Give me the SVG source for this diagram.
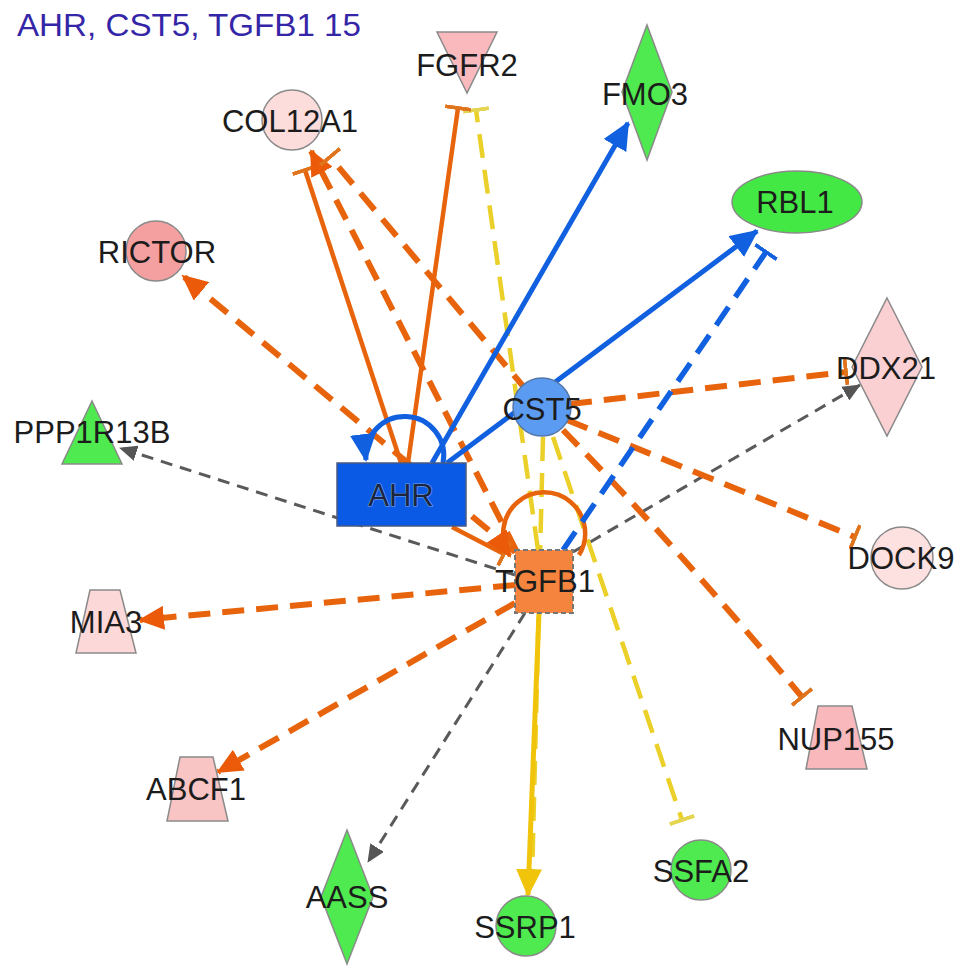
<svg xmlns="http://www.w3.org/2000/svg" width="969" height="979" viewBox="0 0 969 979">
<style>
.lbl{font-family:"Liberation Sans",Arial,sans-serif;font-size:31px;text-anchor:middle;fill:#1c1c1c}
.ttl{font-family:"Liberation Sans",Arial,sans-serif;font-size:31px;fill:#3526a8}
.nd{stroke:#8a8a8a;stroke-width:1.5}
.e{fill:none}
.eo{stroke:#e8640c;stroke-width:4.5}
.eod{stroke:#e8640c;stroke-width:6;stroke-dasharray:22 12}
.eb{stroke:#1060e0;stroke-width:5}
.ebd{stroke:#1060e0;stroke-width:5.5;stroke-dasharray:22 12}
.ey{stroke:#f0c40a;stroke-width:5}
.eyd{stroke:#ecd02a;stroke-width:4.5;stroke-dasharray:24 12}
.eg{stroke:#5a5a5a;stroke-width:3;stroke-dasharray:12 8}
</style>
<defs>
<marker id="ao" viewBox="0 0 26 24" refX="24" refY="12" markerWidth="26" markerHeight="24" markerUnits="userSpaceOnUse" orient="auto"><path d="M0,0 L26,12 L0,24 z" fill="#ea5a08"/></marker>
<marker id="ab" viewBox="0 0 28 26" refX="26" refY="13" markerWidth="28" markerHeight="26" markerUnits="userSpaceOnUse" orient="auto"><path d="M0,0 L28,13 L0,26 z" fill="#1060e0"/></marker>
<marker id="ay" viewBox="0 0 28 26" refX="26" refY="13" markerWidth="28" markerHeight="26" markerUnits="userSpaceOnUse" orient="auto"><path d="M0,0 L28,13 L0,26 z" fill="#f0c40a"/></marker>
<marker id="ag" viewBox="0 0 18 16" refX="17" refY="8" markerWidth="18" markerHeight="16" markerUnits="userSpaceOnUse" orient="auto"><path d="M0,0 L18,8 L0,16 z" fill="#555555"/></marker>
<marker id="to" viewBox="0 0 4 26" refX="2" refY="13" markerWidth="4" markerHeight="26" markerUnits="userSpaceOnUse" orient="auto"><rect width="4" height="26" fill="#e0741c"/></marker>
<marker id="ty" viewBox="0 0 4 26" refX="2" refY="13" markerWidth="4" markerHeight="26" markerUnits="userSpaceOnUse" orient="auto"><rect width="4" height="26" fill="#e4d450"/></marker>
<marker id="tb" viewBox="0 0 4 26" refX="2" refY="13" markerWidth="4" markerHeight="26" markerUnits="userSpaceOnUse" orient="auto"><rect width="4" height="26" fill="#1060e0"/></marker>
</defs>
<rect width="969" height="979" fill="#ffffff"/>
<text class="ttl" x="17" y="36" textLength="344" lengthAdjust="spacingAndGlyphs">AHR, CST5, TGFB1 15</text>
<g id="edges">
<path class="e eg" d="M515,575 L120,448" marker-end="url(#ag)"/>
<path class="e eg" d="M573,552 L860,385" marker-end="url(#ag)"/>
<path class="e eg" d="M525,613 L368,862" marker-end="url(#ag)"/>
<path class="e eyd" d="M538,550 L476,110" marker-end="url(#ty)"/>
<path class="e eyd" d="M553,437 L682,820" marker-end="url(#ty)"/>
<path class="e eyd" d="M543,437 L532,880"/>
<path class="e ey" d="M539,613 L528,895" marker-end="url(#ay)"/>
<path class="e eo" d="M408,463 L458,108" marker-end="url(#to)"/>
<path class="e eo" d="M401,463 L305,170" marker-end="url(#to)"/>
<path class="e eod" d="M517,552 L311,151" marker-end="url(#ao)"/>
<path class="e eod" d="M528,392 L330,157" marker-end="url(#to)"/>
<path class="e eod" d="M515,552 L183,276" marker-end="url(#ao)"/>
<path class="e eod" d="M570,404 L846,372" marker-end="url(#to)"/>
<path class="e eod" d="M567,420 L855,537" marker-end="url(#to)"/>
<path class="e eod" d="M563,430 Q680,550 802,697" marker-end="url(#to)"/>
<path class="e eod" d="M515,585 L140,620" marker-end="url(#ao)"/>
<path class="e eod" d="M515,603 L218,772" marker-end="url(#ao)"/>
<path class="e eo" d="M452,527 L504,554" marker-end="url(#to)"/>
<path class="e eo" d="M579,555 A41,41 0 1 0 510,556" marker-end="url(#ao)"/>
<path class="e eb" d="M432,463 L628,123" marker-end="url(#ab)"/>
<path class="e eb" d="M447,463 L757,231" marker-end="url(#ab)"/>
<path class="e ebd" d="M563,550 L766,252" marker-end="url(#tb)"/>
<path class="e eb" d="M443,463 A39,39 0 1 0 366,460" marker-end="url(#ab)"/>
</g>
<g id="node-FGFR2"><polygon class="nd" points="437,32 497,32 467,93" fill="#f9b9bd"/><text class="lbl" x="467" y="76">FGFR2</text></g>
<g id="node-FMO3"><polygon class="nd" points="647,25 672,92 647,160 622,92" fill="#4fea4f"/><text class="lbl" x="645" y="105">FMO3</text></g>
<g id="node-COL12A1"><circle class="nd" cx="292" cy="120" r="30" fill="#fddcdc"/><text class="lbl" x="290" y="132">COL12A1</text></g>
<g id="node-RICTOR"><circle class="nd" cx="156" cy="251" r="30" fill="#f5a0a0"/><text class="lbl" x="157" y="263">RICTOR</text></g>
<g id="node-RBL1"><ellipse class="nd" cx="797" cy="202" rx="65" ry="31" fill="#44e844"/><text class="lbl" x="795" y="213">RBL1</text></g>
<g id="node-DDX21"><polygon class="nd" points="887,298 922,367 887,436 852,367" fill="#fbd0d2"/><text class="lbl" x="886" y="379">DDX21</text></g>
<g id="node-CST5"><circle cx="542" cy="407" r="29" fill="#5b9cf2" stroke="#5577aa" stroke-width="1.5"/><text class="lbl" x="542" y="420">CST5</text></g>
<g id="node-PPP1R13B"><polygon class="nd" points="92,401 122,464 62,464" fill="#4fea4f"/><text class="lbl" x="92" y="443">PPP1R13B</text></g>
<g id="node-AHR"><rect x="337" y="463" width="129" height="63" fill="#0a5ae6" stroke="#4a5a80" stroke-width="1.5"/><text class="lbl" x="401" y="506" style="fill:#1a2540;stroke:#7aa4f0;stroke-width:1.2;paint-order:stroke">AHR</text></g>
<g id="node-TGFB1"><rect x="515" y="550" width="58" height="63" fill="#f5843e" stroke="#777777" stroke-width="2" stroke-dasharray="5 3"/><text class="lbl" x="545" y="592">TGFB1</text></g>
<g id="node-DOCK9"><circle class="nd" cx="902" cy="558" r="31" fill="#fde0e0"/><text class="lbl" x="901" y="569">DOCK9</text></g>
<g id="node-MIA3"><polygon class="nd" points="90,590 120,590 136,653 76,653" fill="#fdd8d8"/><text class="lbl" x="106" y="633">MIA3</text></g>
<g id="node-ABCF1"><polygon class="nd" points="180,757 213,757 228,821 167,821" fill="#f9c4c4"/><text class="lbl" x="196" y="800">ABCF1</text></g>
<g id="node-AASS"><polygon class="nd" points="347,830 373,897 347,964 321,897" fill="#4fea4f"/><text class="lbl" x="347" y="908">AASS</text></g>
<g id="node-SSRP1"><circle class="nd" cx="526" cy="926" r="30" fill="#4fea4f"/><text class="lbl" x="525" y="938">SSRP1</text></g>
<g id="node-SSFA2"><circle class="nd" cx="701" cy="870" r="30" fill="#4fea4f"/><text class="lbl" x="701" y="882">SSFA2</text></g>
<g id="node-NUP155"><polygon class="nd" points="818,706 852,706 867,769 806,769" fill="#f8b8bc"/><text class="lbl" x="836" y="750">NUP155</text></g>
</svg>
